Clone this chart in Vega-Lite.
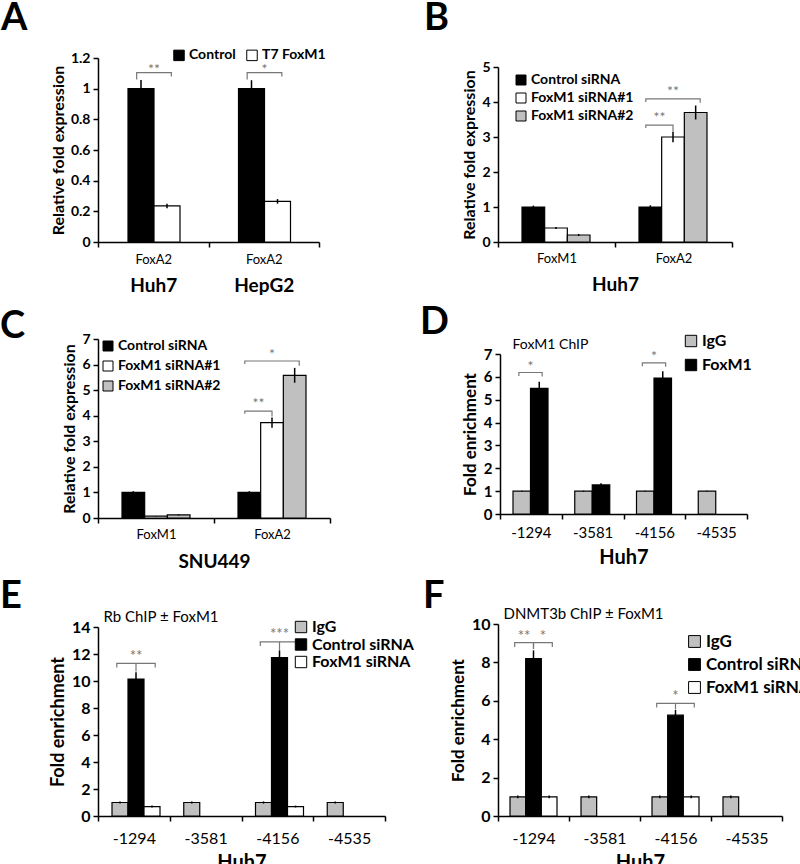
{
  "$schema": "https://vega.github.io/schema/vega-lite/v6.json",
  "padding": {"left": 0, "top": 0, "right": 0, "bottom": 0},
  "background": "white",
  "config": {
    "font": "Lato",
    "view": {"stroke": null},
    "axis": {"labelFont": "Lato", "titleFont": "Lato", "labelColor": "black", "titleColor": "black", "domainColor": "black", "tickColor": "black", "domainWidth": 1.5, "tickWidth": 1.5, "grid": false, "labelFontWeight": "bold", "titleFontWeight": "bold", "tickSize": 5},
    "axisX": {"tickBand": "extent", "labelAngle": 0},
    "axisY": {"labelFlush": false, "format": "~r", "labelOverlap": false},
    "legend": {"labelFont": "Lato", "labelColor": "black", "labelFontWeight": "bold", "symbolType": "square", "symbolStrokeColor": "black", "symbolStrokeWidth": 1, "labelOffset": 3},
    "title": {"font": "Lato", "fontWeight": "bold", "color": "black", "anchor": "start", "frame": "group", "baseline": "alphabetic", "fontSize": 38}
  },
  "datasets": {
    "A": [
      {"g": "Huh7", "s": "Control", "v": 1.0, "lo": 0.945, "hi": 1.057},
      {"g": "Huh7", "s": "T7 FoxM1", "v": 0.235, "lo": 0.22, "hi": 0.25},
      {"g": "HepG2", "s": "Control", "v": 1.0, "lo": 0.945, "hi": 1.055},
      {"g": "HepG2", "s": "T7 FoxM1", "v": 0.265, "lo": 0.25, "hi": 0.28}
    ],
    "A_br": [
      {"g": "Huh7", "id": "a1", "o": 1, "p": "s0", "y": 1.06},
      {"g": "Huh7", "id": "a1", "o": 2, "p": "s0", "y": 1.105},
      {"g": "Huh7", "id": "a1", "o": 3, "p": "s1", "y": 1.105},
      {"g": "Huh7", "id": "a1", "o": 4, "p": "s1", "y": 1.08},
      {"g": "HepG2", "id": "a2", "o": 1, "p": "s0", "y": 1.06},
      {"g": "HepG2", "id": "a2", "o": 2, "p": "s0", "y": 1.105},
      {"g": "HepG2", "id": "a2", "o": 3, "p": "s1", "y": 1.105},
      {"g": "HepG2", "id": "a2", "o": 4, "p": "s1", "y": 1.08}
    ],
    "A_st": [
      {"g": "Huh7", "p": "m01", "y": 1.12, "t": "**"},
      {"g": "HepG2", "p": "m01", "y": 1.12, "t": "*"}
    ],
    "B": [
      {"g": "FoxM1", "s": "Control siRNA", "v": 1.0, "lo": 0.96, "hi": 1.04},
      {"g": "FoxM1", "s": "FoxM1 siRNA#1", "v": 0.4, "lo": 0.37, "hi": 0.43},
      {"g": "FoxM1", "s": "FoxM1 siRNA#2", "v": 0.2, "lo": 0.17, "hi": 0.23},
      {"g": "FoxA2", "s": "Control siRNA", "v": 1.0, "lo": 0.95, "hi": 1.05},
      {"g": "FoxA2", "s": "FoxM1 siRNA#1", "v": 3.0, "lo": 2.85, "hi": 3.15},
      {"g": "FoxA2", "s": "FoxM1 siRNA#2", "v": 3.7, "lo": 3.5, "hi": 3.9}
    ],
    "B_br": [
      {"g": "FoxA2", "id": "b1", "o": 1, "p": "s0", "y": 3.26},
      {"g": "FoxA2", "id": "b1", "o": 2, "p": "s0", "y": 3.34},
      {"g": "FoxA2", "id": "b1", "o": 3, "p": "s1", "y": 3.34},
      {"g": "FoxA2", "id": "b1", "o": 4, "p": "s1", "y": 3.16},
      {"g": "FoxA2", "id": "b2", "o": 1, "p": "s0", "y": 4.0},
      {"g": "FoxA2", "id": "b2", "o": 2, "p": "s0", "y": 4.09},
      {"g": "FoxA2", "id": "b2", "o": 3, "p": "s2", "y": 4.09},
      {"g": "FoxA2", "id": "b2", "o": 4, "p": "s2", "y": 3.98}
    ],
    "B_st": [
      {"g": "FoxA2", "p": "m01", "y": 3.53, "t": "**"},
      {"g": "FoxA2", "p": "s1", "y": 4.29, "t": "**"}
    ],
    "C": [
      {"g": "FoxM1", "s": "Control siRNA", "v": 1.0, "lo": 0.95, "hi": 1.05},
      {"g": "FoxM1", "s": "FoxM1 siRNA#1", "v": 0.07, "lo": 0.06, "hi": 0.08},
      {"g": "FoxM1", "s": "FoxM1 siRNA#2", "v": 0.12, "lo": 0.1, "hi": 0.14},
      {"g": "FoxA2", "s": "Control siRNA", "v": 1.0, "lo": 0.95, "hi": 1.05},
      {"g": "FoxA2", "s": "FoxM1 siRNA#1", "v": 3.73, "lo": 3.53, "hi": 3.93},
      {"g": "FoxA2", "s": "FoxM1 siRNA#2", "v": 5.58, "lo": 5.29, "hi": 5.87}
    ],
    "C_br": [
      {"g": "FoxA2", "id": "c1", "o": 1, "p": "s0", "y": 4.08},
      {"g": "FoxA2", "id": "c1", "o": 2, "p": "s0", "y": 4.18},
      {"g": "FoxA2", "id": "c1", "o": 3, "p": "s1", "y": 4.18},
      {"g": "FoxA2", "id": "c1", "o": 4, "p": "s1", "y": 3.97},
      {"g": "FoxA2", "id": "c2", "o": 1, "p": "s0", "y": 6.02},
      {"g": "FoxA2", "id": "c2", "o": 2, "p": "s0", "y": 6.14},
      {"g": "FoxA2", "id": "c2", "o": 3, "p": "s2", "y": 6.14},
      {"g": "FoxA2", "id": "c2", "o": 4, "p": "s2", "y": 5.95}
    ],
    "C_st": [
      {"g": "FoxA2", "p": "m01", "y": 4.46, "t": "**"},
      {"g": "FoxA2", "p": "s1", "y": 6.37, "t": "*"}
    ],
    "D": [
      {"g": "-1294", "s": "IgG", "v": 1.0, "lo": 0.98, "hi": 1.02},
      {"g": "-1294", "s": "FoxM1", "v": 5.5, "lo": 5.21, "hi": 5.79},
      {"g": "-3581", "s": "IgG", "v": 1.0, "lo": 0.98, "hi": 1.02},
      {"g": "-3581", "s": "FoxM1", "v": 1.27, "lo": 1.2, "hi": 1.34},
      {"g": "-4156", "s": "IgG", "v": 1.0, "lo": 0.98, "hi": 1.02},
      {"g": "-4156", "s": "FoxM1", "v": 5.95, "lo": 5.66, "hi": 6.24},
      {"g": "-4535", "s": "IgG", "v": 1.0, "lo": 0.98, "hi": 1.02}
    ],
    "D_br": [
      {"g": "-1294", "id": "d1", "o": 1, "p": "s0", "y": 6.04},
      {"g": "-1294", "id": "d1", "o": 2, "p": "s0", "y": 6.19},
      {"g": "-1294", "id": "d1", "o": 3, "p": "s1", "y": 6.19},
      {"g": "-1294", "id": "d1", "o": 4, "p": "s1", "y": 6.02},
      {"g": "-4156", "id": "d2", "o": 1, "p": "s0", "y": 6.46},
      {"g": "-4156", "id": "d2", "o": 2, "p": "s0", "y": 6.61},
      {"g": "-4156", "id": "d2", "o": 3, "p": "s1", "y": 6.61},
      {"g": "-4156", "id": "d2", "o": 4, "p": "s1", "y": 6.44}
    ],
    "D_st": [
      {"g": "-1294", "p": "m01", "y": 6.42, "t": "*"},
      {"g": "-4156", "p": "m01", "y": 6.85, "t": "*"}
    ],
    "E": [
      {"g": "-1294", "s": "IgG", "v": 1.0, "lo": 0.92, "hi": 1.08},
      {"g": "-1294", "s": "Control siRNA", "v": 10.15, "lo": 9.65, "hi": 10.65},
      {"g": "-1294", "s": "FoxM1 siRNA", "v": 0.7, "lo": 0.63, "hi": 0.77},
      {"g": "-3581", "s": "IgG", "v": 1.0, "lo": 0.92, "hi": 1.08},
      {"g": "-4156", "s": "IgG", "v": 1.0, "lo": 0.92, "hi": 1.08},
      {"g": "-4156", "s": "Control siRNA", "v": 11.73, "lo": 11.19, "hi": 12.27},
      {"g": "-4156", "s": "FoxM1 siRNA", "v": 0.7, "lo": 0.63, "hi": 0.77},
      {"g": "-4535", "s": "IgG", "v": 1.0, "lo": 0.92, "hi": 1.08}
    ],
    "E_br": [
      {"g": "-1294", "id": "e1", "o": 1, "p": "s0", "y": 11.0},
      {"g": "-1294", "id": "e1", "o": 2, "p": "s0", "y": 11.3},
      {"g": "-1294", "id": "e1", "o": 3, "p": "s2", "y": 11.3},
      {"g": "-1294", "id": "e1", "o": 4, "p": "s2", "y": 11.0},
      {"g": "-1294", "id": "e1m", "o": 1, "p": "s1", "y": 11.3},
      {"g": "-1294", "id": "e1m", "o": 2, "p": "s1", "y": 10.7},
      {"g": "-4156", "id": "e2", "o": 1, "p": "s0", "y": 12.6},
      {"g": "-4156", "id": "e2", "o": 2, "p": "s0", "y": 12.9},
      {"g": "-4156", "id": "e2", "o": 3, "p": "s2", "y": 12.9},
      {"g": "-4156", "id": "e2", "o": 4, "p": "s2", "y": 12.6},
      {"g": "-4156", "id": "e2m", "o": 1, "p": "s1", "y": 12.9},
      {"g": "-4156", "id": "e2m", "o": 2, "p": "s1", "y": 12.3}
    ],
    "E_st": [
      {"g": "-1294", "p": "s1", "y": 11.85, "t": "**"},
      {"g": "-4156", "p": "s1", "y": 13.45, "t": "***"}
    ],
    "F": [
      {"g": "-1294", "s": "IgG", "v": 1.0, "lo": 0.93, "hi": 1.07},
      {"g": "-1294", "s": "Control siRNA", "v": 8.2, "lo": 7.77, "hi": 8.63},
      {"g": "-1294", "s": "FoxM1 siRNA", "v": 1.0, "lo": 0.93, "hi": 1.07},
      {"g": "-3581", "s": "IgG", "v": 1.0, "lo": 0.93, "hi": 1.07},
      {"g": "-4156", "s": "IgG", "v": 1.0, "lo": 0.93, "hi": 1.07},
      {"g": "-4156", "s": "Control siRNA", "v": 5.25, "lo": 4.98, "hi": 5.52},
      {"g": "-4156", "s": "FoxM1 siRNA", "v": 1.0, "lo": 0.93, "hi": 1.07},
      {"g": "-4535", "s": "IgG", "v": 1.0, "lo": 0.93, "hi": 1.07}
    ],
    "F_br": [
      {"g": "-1294", "id": "f1", "o": 1, "p": "s0", "y": 8.8},
      {"g": "-1294", "id": "f1", "o": 2, "p": "s0", "y": 9.03},
      {"g": "-1294", "id": "f1", "o": 3, "p": "s1", "y": 9.03},
      {"g": "-1294", "id": "f1", "o": 4, "p": "s1", "y": 8.7},
      {"g": "-1294", "id": "f2", "o": 1, "p": "s1", "y": 8.7},
      {"g": "-1294", "id": "f2", "o": 2, "p": "s1", "y": 9.03},
      {"g": "-1294", "id": "f2", "o": 3, "p": "s2", "y": 9.03},
      {"g": "-1294", "id": "f2", "o": 4, "p": "s2", "y": 8.8},
      {"g": "-4156", "id": "f3", "o": 1, "p": "s0", "y": 5.65},
      {"g": "-4156", "id": "f3", "o": 2, "p": "s0", "y": 5.87},
      {"g": "-4156", "id": "f3", "o": 3, "p": "s2", "y": 5.87},
      {"g": "-4156", "id": "f3", "o": 4, "p": "s2", "y": 5.65},
      {"g": "-4156", "id": "f3m", "o": 1, "p": "s1", "y": 5.87},
      {"g": "-4156", "id": "f3m", "o": 2, "p": "s1", "y": 5.55}
    ],
    "F_st": [
      {"g": "-1294", "p": "m01", "y": 9.38, "t": "**"},
      {"g": "-1294", "p": "m12", "y": 9.38, "t": "*"},
      {"g": "-4156", "p": "s1", "y": 6.26, "t": "*"}
    ]
  },
  "bounds": "flush",
  "spacing": 281,
  "resolve": {"scale": {"color": "independent"}, "legend": {"color": "independent"}},
  "vconcat": [
    {
      "bounds": "flush",
      "spacing": 179,
      "resolve": {"scale": {"color": "independent"}, "legend": {"color": "independent"}},
      "hconcat": [
        {
          "width": 221, "height": 184,
          "title": {"text": "A", "dx": -97, "offset": 10},
          "data": {"name": "A"},
          "resolve": {"scale": {"xOffset": "independent"}, "axis": {"x": "independent"}},
          "layer": [
            {
              "mark": {"type": "bar", "stroke": "black", "strokeWidth": 1.2},
              "encoding": {
                "x": {"field": "g", "type": "nominal", "scale": {"domain": ["Huh7", "HepG2"], "paddingInner": 0, "paddingOuter": 0}, "axis": {"title": null, "labelExpr": "datum.label ? 'FoxA2' : ''", "labelFontSize": 13, "labelFontWeight": "normal", "labelPadding": 6}},
                "xOffset": {"field": "s", "type": "nominal", "scale": {"domain": ["Control", "T7 FoxM1"], "paddingInner": 0, "paddingOuter": 0, "range": [30, 82]}},
                "y": {"field": "v", "type": "quantitative", "scale": {"domain": [0, 1.2], "range": [184, 0], "nice": false}, "axis": {"title": "Relative fold expression", "titleFontSize": 16, "values": [0, 0.2, 0.4, 0.6, 0.8, 1, 1.2], "labelOverlap": false, "labelFontSize": 14, "labelPadding": 3}},
                "color": {"field": "s", "type": "nominal", "scale": {"domain": ["Control", "T7 FoxM1"], "range": ["#000000", "#ffffff"]}, "legend": {"orient": "none", "legendX": 74, "legendY": -10, "direction": "horizontal", "columns": 2, "title": null, "labelFontSize": 14, "symbolSize": 110, "columnPadding": 8}}
              }
            },
            {
              "mark": {"type": "rule", "color": "black", "strokeWidth": 1.5},
              "encoding": {
                "x": {"field": "g", "type": "nominal", "scale": {"domain": ["Huh7", "HepG2"], "paddingInner": 0, "paddingOuter": 0}, "axis": null},
                "xOffset": {"field": "s", "type": "nominal", "scale": {"domain": ["Control", "T7 FoxM1"], "paddingInner": 0, "paddingOuter": 0, "range": [30, 82]}},
                "y": {"field": "lo", "type": "quantitative", "scale": {"domain": [0, 1.2], "range": [184, 0], "nice": false}, "axis": {"title": "Relative fold expression", "titleFontSize": 16, "values": [0, 0.2, 0.4, 0.6, 0.8, 1, 1.2], "labelOverlap": false, "labelFontSize": 14, "labelPadding": 3}},
                "y2": {"field": "hi"}
              }
            },
            {
              "data": {"name": "A_br"},
              "mark": {"type": "line", "color": "#777777", "strokeWidth": 1.2},
              "encoding": {
                "x": {"field": "g", "type": "nominal", "scale": {"domain": ["Huh7", "HepG2"], "paddingInner": 0, "paddingOuter": 0}, "axis": null},
                "xOffset": {"field": "p", "type": "nominal", "scale": {"domain": ["s0", "m01", "s1"], "paddingInner": 0, "paddingOuter": 0.5, "range": [30, 82]}},
                "y": {"field": "y", "type": "quantitative", "scale": {"domain": [0, 1.2], "range": [184, 0], "nice": false}, "axis": {"title": "Relative fold expression", "titleFontSize": 16, "values": [0, 0.2, 0.4, 0.6, 0.8, 1, 1.2], "labelOverlap": false, "labelFontSize": 14, "labelPadding": 3}},
                "detail": {"field": "id"},
                "order": {"field": "o"}
              }
            },
            {
              "data": {"name": "A_st"},
              "mark": {"type": "text", "color": "#777777", "fontSize": 14, "baseline": "middle"},
              "encoding": {
                "x": {"field": "g", "type": "nominal", "scale": {"domain": ["Huh7", "HepG2"], "paddingInner": 0, "paddingOuter": 0}, "axis": {"orient": "bottom", "title": null, "ticks": false, "domain": false, "labelFontSize": 19, "labelFontWeight": "bold", "labelPadding": 34}},
                "xOffset": {"field": "p", "type": "nominal", "scale": {"domain": ["s0", "m01", "s1"], "paddingInner": 0, "paddingOuter": 0.5, "range": [30, 82]}},
                "y": {"field": "y", "type": "quantitative", "scale": {"domain": [0, 1.2], "range": [184, 0], "nice": false}, "axis": {"title": "Relative fold expression", "titleFontSize": 16, "values": [0, 0.2, 0.4, 0.6, 0.8, 1, 1.2], "labelOverlap": false, "labelFontSize": 14, "labelPadding": 3}},
                "text": {"field": "t"}
              }
            }
          ]
        },
        {
          "width": 234, "height": 184,
          "title": {"text": "B", "dx": -74, "offset": 20},
          "data": {"name": "B"},
          "resolve": {"scale": {"xOffset": "independent"}},
          "layer": [
            {
              "mark": {"type": "bar", "stroke": "black", "strokeWidth": 1.2},
              "encoding": {
                "x": {"field": "g", "type": "nominal", "scale": {"domain": ["FoxM1", "FoxA2"], "paddingInner": 0, "paddingOuter": 0}, "axis": {"title": "Huh7", "titleFontSize": 19, "titlePadding": 10, "labelFontSize": 13, "labelFontWeight": "normal", "labelPadding": 5}},
                "xOffset": {"field": "s", "type": "nominal", "scale": {"domain": ["Control siRNA", "FoxM1 siRNA#1", "FoxM1 siRNA#2"], "paddingInner": 0, "paddingOuter": 0, "range": [24, 92]}},
                "y": {"field": "v", "type": "quantitative", "scale": {"domain": [0, 5], "range": [184, 9], "nice": false}, "axis": {"title": "Relative fold expression", "titleFontSize": 16, "values": [0, 1, 2, 3, 4, 5], "labelOverlap": false, "labelFontSize": 14, "labelPadding": 3}},
                "color": {"field": "s", "type": "nominal", "scale": {"domain": ["Control siRNA", "FoxM1 siRNA#1", "FoxM1 siRNA#2"], "range": ["#000000", "#ffffff", "#c0c0c0"]}, "legend": {"orient": "none", "legendX": 16, "legendY": 15, "direction": "vertical", "title": null, "labelFontSize": 14, "symbolSize": 100, "rowPadding": 4}}
              }
            },
            {
              "mark": {"type": "rule", "color": "black", "strokeWidth": 1.5},
              "encoding": {
                "x": {"field": "g", "type": "nominal", "scale": {"domain": ["FoxM1", "FoxA2"], "paddingInner": 0, "paddingOuter": 0}},
                "xOffset": {"field": "s", "type": "nominal", "scale": {"domain": ["Control siRNA", "FoxM1 siRNA#1", "FoxM1 siRNA#2"], "paddingInner": 0, "paddingOuter": 0, "range": [24, 92]}},
                "y": {"field": "lo", "type": "quantitative", "scale": {"domain": [0, 5], "range": [184, 9], "nice": false}, "axis": {"title": "Relative fold expression", "titleFontSize": 16, "values": [0, 1, 2, 3, 4, 5], "labelOverlap": false, "labelFontSize": 14, "labelPadding": 3}},
                "y2": {"field": "hi"}
              }
            },
            {
              "data": {"name": "B_br"},
              "mark": {"type": "line", "color": "#777777", "strokeWidth": 1.2},
              "encoding": {
                "x": {"field": "g", "type": "nominal", "scale": {"domain": ["FoxM1", "FoxA2"], "paddingInner": 0, "paddingOuter": 0}},
                "xOffset": {"field": "p", "type": "nominal", "scale": {"domain": ["s0", "m01", "s1", "m12", "s2"], "paddingInner": 0, "paddingOuter": 0.5, "range": [24, 92]}},
                "y": {"field": "y", "type": "quantitative", "scale": {"domain": [0, 5], "range": [184, 9], "nice": false}, "axis": {"title": "Relative fold expression", "titleFontSize": 16, "values": [0, 1, 2, 3, 4, 5], "labelOverlap": false, "labelFontSize": 14, "labelPadding": 3}},
                "detail": {"field": "id"},
                "order": {"field": "o"}
              }
            },
            {
              "data": {"name": "B_st"},
              "mark": {"type": "text", "color": "#777777", "fontSize": 14, "baseline": "middle"},
              "encoding": {
                "x": {"field": "g", "type": "nominal", "scale": {"domain": ["FoxM1", "FoxA2"], "paddingInner": 0, "paddingOuter": 0}},
                "xOffset": {"field": "p", "type": "nominal", "scale": {"domain": ["s0", "m01", "s1", "m12", "s2"], "paddingInner": 0, "paddingOuter": 0.5, "range": [24, 92]}},
                "y": {"field": "y", "type": "quantitative", "scale": {"domain": [0, 5], "range": [184, 9], "nice": false}, "axis": {"title": "Relative fold expression", "titleFontSize": 16, "values": [0, 1, 2, 3, 4, 5], "labelOverlap": false, "labelFontSize": 14, "labelPadding": 3}},
                "text": {"field": "t"}
              }
            }
          ]
        }
      ]
    },
    {
      "bounds": "flush",
      "spacing": 170,
      "resolve": {"scale": {"color": "independent"}, "legend": {"color": "independent"}},
      "hconcat": [
        {
          "width": 232, "height": 179,
          "title": {"text": "C", "dx": -98, "offset": -14},
          "data": {"name": "C"},
          "resolve": {"scale": {"xOffset": "independent"}},
          "layer": [
            {
              "mark": {"type": "bar", "stroke": "black", "strokeWidth": 1.2},
              "encoding": {
                "x": {"field": "g", "type": "nominal", "scale": {"domain": ["FoxM1", "FoxA2"], "paddingInner": 0, "paddingOuter": 0}, "axis": {"title": "SNU449", "titleFontSize": 19, "titlePadding": 11, "labelFontSize": 13, "labelFontWeight": "normal", "labelPadding": 5}},
                "xOffset": {"field": "s", "type": "nominal", "scale": {"domain": ["Control siRNA", "FoxM1 siRNA#1", "FoxM1 siRNA#2"], "paddingInner": 0, "paddingOuter": 0, "range": [24, 92]}},
                "y": {"field": "v", "type": "quantitative", "scale": {"domain": [0, 7], "range": [179, 0], "nice": false}, "axis": {"title": "Relative fold expression", "titleFontSize": 16, "values": [0, 1, 2, 3, 4, 5, 6, 7], "labelOverlap": false, "labelFontSize": 14, "labelPadding": 3}},
                "color": {"field": "s", "type": "nominal", "scale": {"domain": ["Control siRNA", "FoxM1 siRNA#1", "FoxM1 siRNA#2"], "range": ["#000000", "#ffffff", "#c0c0c0"]}, "legend": {"orient": "none", "legendX": 3, "legendY": 0, "direction": "vertical", "title": null, "labelFontSize": 14, "symbolSize": 100, "rowPadding": 6}}
              }
            },
            {
              "mark": {"type": "rule", "color": "black", "strokeWidth": 1.5},
              "encoding": {
                "x": {"field": "g", "type": "nominal", "scale": {"domain": ["FoxM1", "FoxA2"], "paddingInner": 0, "paddingOuter": 0}},
                "xOffset": {"field": "s", "type": "nominal", "scale": {"domain": ["Control siRNA", "FoxM1 siRNA#1", "FoxM1 siRNA#2"], "paddingInner": 0, "paddingOuter": 0, "range": [24, 92]}},
                "y": {"field": "lo", "type": "quantitative", "scale": {"domain": [0, 7], "range": [179, 0], "nice": false}, "axis": {"title": "Relative fold expression", "titleFontSize": 16, "values": [0, 1, 2, 3, 4, 5, 6, 7], "labelOverlap": false, "labelFontSize": 14, "labelPadding": 3}},
                "y2": {"field": "hi"}
              }
            },
            {
              "data": {"name": "C_br"},
              "mark": {"type": "line", "color": "#777777", "strokeWidth": 1.2},
              "encoding": {
                "x": {"field": "g", "type": "nominal", "scale": {"domain": ["FoxM1", "FoxA2"], "paddingInner": 0, "paddingOuter": 0}},
                "xOffset": {"field": "p", "type": "nominal", "scale": {"domain": ["s0", "m01", "s1", "m12", "s2"], "paddingInner": 0, "paddingOuter": 0.5, "range": [24, 92]}},
                "y": {"field": "y", "type": "quantitative", "scale": {"domain": [0, 7], "range": [179, 0], "nice": false}, "axis": {"title": "Relative fold expression", "titleFontSize": 16, "values": [0, 1, 2, 3, 4, 5, 6, 7], "labelOverlap": false, "labelFontSize": 14, "labelPadding": 3}},
                "detail": {"field": "id"},
                "order": {"field": "o"}
              }
            },
            {
              "data": {"name": "C_st"},
              "mark": {"type": "text", "color": "#777777", "fontSize": 14, "baseline": "middle"},
              "encoding": {
                "x": {"field": "g", "type": "nominal", "scale": {"domain": ["FoxM1", "FoxA2"], "paddingInner": 0, "paddingOuter": 0}},
                "xOffset": {"field": "p", "type": "nominal", "scale": {"domain": ["s0", "m01", "s1", "m12", "s2"], "paddingInner": 0, "paddingOuter": 0.5, "range": [24, 92]}},
                "y": {"field": "y", "type": "quantitative", "scale": {"domain": [0, 7], "range": [179, 0], "nice": false}, "axis": {"title": "Relative fold expression", "titleFontSize": 16, "values": [0, 1, 2, 3, 4, 5, 6, 7], "labelOverlap": false, "labelFontSize": 14, "labelPadding": 3}},
                "text": {"field": "t"}
              }
            }
          ]
        },
        {
          "width": 247, "height": 175,
          "title": {"text": "D", "dx": -80, "offset": -9},
          "data": {"name": "D"},
          "resolve": {"scale": {"xOffset": "independent"}, "axis": {"x": "independent"}},
          "layer": [
            {
              "mark": {"type": "bar", "stroke": "black", "strokeWidth": 1.2},
              "encoding": {
                "x": {"field": "g", "type": "nominal", "scale": {"domain": ["-1294", "-3581", "-4156", "-4535"], "paddingInner": 0, "paddingOuter": 0}, "axis": {"title": "Huh7", "titleFontSize": 20, "titlePadding": 7, "labelFontSize": 15, "labelFontWeight": "normal", "labelPadding": 6}},
                "xOffset": {"field": "s", "type": "nominal", "scale": {"domain": ["IgG", "FoxM1"], "paddingInner": 0, "paddingOuter": 0, "range": [13, 48]}},
                "y": {"field": "v", "type": "quantitative", "scale": {"domain": [0, 7], "range": [175, 15], "nice": false}, "axis": {"title": "Fold enrichment", "titleFontSize": 17, "values": [0, 1, 2, 3, 4, 5, 6, 7], "labelOverlap": false, "labelFontSize": 15, "labelPadding": 3}},
                "color": {"field": "s", "type": "nominal", "scale": {"domain": ["IgG", "FoxM1"], "range": ["#c0c0c0", "#000000"]}, "legend": {"orient": "none", "legendX": 183, "legendY": -6, "direction": "vertical", "title": null, "labelFontSize": 16, "symbolSize": 130, "rowPadding": 8}}
              }
            },
            {
              "mark": {"type": "rule", "color": "black", "strokeWidth": 1.5},
              "encoding": {
                "x": {"field": "g", "type": "nominal", "scale": {"domain": ["-1294", "-3581", "-4156", "-4535"], "paddingInner": 0, "paddingOuter": 0}, "axis": null},
                "xOffset": {"field": "s", "type": "nominal", "scale": {"domain": ["IgG", "FoxM1"], "paddingInner": 0, "paddingOuter": 0, "range": [13, 48]}},
                "y": {"field": "lo", "type": "quantitative", "scale": {"domain": [0, 7], "range": [175, 15], "nice": false}, "axis": {"title": "Fold enrichment", "titleFontSize": 17, "values": [0, 1, 2, 3, 4, 5, 6, 7], "labelOverlap": false, "labelFontSize": 15, "labelPadding": 3}},
                "y2": {"field": "hi"}
              }
            },
            {
              "data": {"name": "D_br"},
              "mark": {"type": "line", "color": "#777777", "strokeWidth": 1.2},
              "encoding": {
                "x": {"field": "g", "type": "nominal", "scale": {"domain": ["-1294", "-3581", "-4156", "-4535"], "paddingInner": 0, "paddingOuter": 0}, "axis": {"orient": "top", "title": "FoxM1 ChIP", "labels": false, "ticks": false, "domain": false, "titleX": 12, "titleY": 5, "titleAlign": "left", "titleAnchor": "start", "titleBaseline": "middle", "titleFontSize": 14, "titleFontWeight": "normal"}},
                "xOffset": {"field": "p", "type": "nominal", "scale": {"domain": ["s0", "m01", "s1"], "paddingInner": 0, "paddingOuter": 0.5, "range": [13, 48]}},
                "y": {"field": "y", "type": "quantitative", "scale": {"domain": [0, 7], "range": [175, 15], "nice": false}, "axis": {"title": "Fold enrichment", "titleFontSize": 17, "values": [0, 1, 2, 3, 4, 5, 6, 7], "labelOverlap": false, "labelFontSize": 15, "labelPadding": 3}},
                "detail": {"field": "id"},
                "order": {"field": "o"}
              }
            },
            {
              "data": {"name": "D_st"},
              "mark": {"type": "text", "color": "#777777", "fontSize": 14, "baseline": "middle"},
              "encoding": {
                "x": {"field": "g", "type": "nominal", "scale": {"domain": ["-1294", "-3581", "-4156", "-4535"], "paddingInner": 0, "paddingOuter": 0}, "axis": null},
                "xOffset": {"field": "p", "type": "nominal", "scale": {"domain": ["s0", "m01", "s1"], "paddingInner": 0, "paddingOuter": 0.5, "range": [13, 48]}},
                "y": {"field": "y", "type": "quantitative", "scale": {"domain": [0, 7], "range": [175, 15], "nice": false}, "axis": {"title": "Fold enrichment", "titleFontSize": 17, "values": [0, 1, 2, 3, 4, 5, 6, 7], "labelOverlap": false, "labelFontSize": 15, "labelPadding": 3}},
                "text": {"field": "t"}
              }
            }
          ]
        }
      ]
    },
    {
      "bounds": "flush",
      "spacing": 113,
      "resolve": {"scale": {"color": "independent"}, "legend": {"color": "independent"}},
      "hconcat": [
        {
          "width": 287, "height": 196,
          "title": {"text": "E", "dx": -98, "offset": -7},
          "data": {"name": "E"},
          "resolve": {"scale": {"xOffset": "independent"}, "axis": {"x": "independent"}},
          "layer": [
            {
              "mark": {"type": "bar", "stroke": "black", "strokeWidth": 1.2},
              "encoding": {
                "x": {"field": "g", "type": "nominal", "scale": {"domain": ["-1294", "-3581", "-4156", "-4535"], "paddingInner": 0, "paddingOuter": 0}, "axis": {"title": "Huh7", "titleFontSize": 20, "titlePadding": 6, "labelFontSize": 16, "labelFontWeight": "normal", "labelPadding": 9}},
                "xOffset": {"field": "s", "type": "nominal", "scale": {"domain": ["IgG", "Control siRNA", "FoxM1 siRNA"], "paddingInner": 0, "paddingOuter": 0, "range": [14, 62]}},
                "y": {"field": "v", "type": "quantitative", "scale": {"domain": [0, 14], "range": [196, 7], "nice": false}, "axis": {"title": "Fold enrichment", "titleFontSize": 18, "values": [0, 2, 4, 6, 8, 10, 12, 14], "labelOverlap": false, "labelFontSize": 16, "labelPadding": 3}},
                "color": {"field": "s", "type": "nominal", "scale": {"domain": ["IgG", "Control siRNA", "FoxM1 siRNA"], "range": ["#c0c0c0", "#000000", "#ffffff"]}, "legend": {"orient": "none", "legendX": 195, "legendY": -1, "direction": "vertical", "title": null, "labelFontSize": 16, "symbolSize": 130, "rowPadding": 1.5}}
              }
            },
            {
              "mark": {"type": "rule", "color": "black", "strokeWidth": 1.5},
              "encoding": {
                "x": {"field": "g", "type": "nominal", "scale": {"domain": ["-1294", "-3581", "-4156", "-4535"], "paddingInner": 0, "paddingOuter": 0}, "axis": null},
                "xOffset": {"field": "s", "type": "nominal", "scale": {"domain": ["IgG", "Control siRNA", "FoxM1 siRNA"], "paddingInner": 0, "paddingOuter": 0, "range": [14, 62]}},
                "y": {"field": "lo", "type": "quantitative", "scale": {"domain": [0, 14], "range": [196, 7], "nice": false}, "axis": {"title": "Fold enrichment", "titleFontSize": 18, "values": [0, 2, 4, 6, 8, 10, 12, 14], "labelOverlap": false, "labelFontSize": 16, "labelPadding": 3}},
                "y2": {"field": "hi"}
              }
            },
            {
              "data": {"name": "E_br"},
              "mark": {"type": "line", "color": "#777777", "strokeWidth": 1.2},
              "encoding": {
                "x": {"field": "g", "type": "nominal", "scale": {"domain": ["-1294", "-3581", "-4156", "-4535"], "paddingInner": 0, "paddingOuter": 0}, "axis": {"orient": "top", "title": "Rb ChIP ± FoxM1", "labels": false, "ticks": false, "domain": false, "titleX": 5, "titleY": -4, "titleAlign": "left", "titleAnchor": "start", "titleBaseline": "middle", "titleFontSize": 15, "titleFontWeight": "normal"}},
                "xOffset": {"field": "p", "type": "nominal", "scale": {"domain": ["s0", "m01", "s1", "m12", "s2"], "paddingInner": 0, "paddingOuter": 0.5, "range": [14, 62]}},
                "y": {"field": "y", "type": "quantitative", "scale": {"domain": [0, 14], "range": [196, 7], "nice": false}, "axis": {"title": "Fold enrichment", "titleFontSize": 18, "values": [0, 2, 4, 6, 8, 10, 12, 14], "labelOverlap": false, "labelFontSize": 16, "labelPadding": 3}},
                "detail": {"field": "id"},
                "order": {"field": "o"}
              }
            },
            {
              "data": {"name": "E_st"},
              "mark": {"type": "text", "color": "#777777", "fontSize": 15, "baseline": "middle"},
              "encoding": {
                "x": {"field": "g", "type": "nominal", "scale": {"domain": ["-1294", "-3581", "-4156", "-4535"], "paddingInner": 0, "paddingOuter": 0}, "axis": null},
                "xOffset": {"field": "p", "type": "nominal", "scale": {"domain": ["s0", "m01", "s1", "m12", "s2"], "paddingInner": 0, "paddingOuter": 0.5, "range": [14, 62]}},
                "y": {"field": "y", "type": "quantitative", "scale": {"domain": [0, 14], "range": [196, 7], "nice": false}, "axis": {"title": "Fold enrichment", "titleFontSize": 18, "values": [0, 2, 4, 6, 8, 10, 12, 14], "labelOverlap": false, "labelFontSize": 16, "labelPadding": 3}},
                "text": {"field": "t"}
              }
            }
          ]
        },
        {
          "width": 284, "height": 196,
          "title": {"text": "F", "dx": -75, "offset": -10},
          "data": {"name": "F"},
          "resolve": {"scale": {"xOffset": "independent"}, "axis": {"x": "independent"}},
          "layer": [
            {
              "mark": {"type": "bar", "stroke": "black", "strokeWidth": 1.2},
              "encoding": {
                "x": {"field": "g", "type": "nominal", "scale": {"domain": ["-1294", "-3581", "-4156", "-4535"], "paddingInner": 0, "paddingOuter": 0}, "axis": {"title": "Huh7", "titleFontSize": 20, "titlePadding": 6, "labelFontSize": 16, "labelFontWeight": "normal", "labelPadding": 9}},
                "xOffset": {"field": "s", "type": "nominal", "scale": {"domain": ["IgG", "Control siRNA", "FoxM1 siRNA"], "paddingInner": 0, "paddingOuter": 0, "range": [12, 59]}},
                "y": {"field": "v", "type": "quantitative", "scale": {"domain": [0, 10], "range": [196, 4], "nice": false}, "axis": {"title": "Fold enrichment", "titleFontSize": 17, "values": [0, 2, 4, 6, 8, 10], "labelOverlap": false, "labelFontSize": 16, "labelPadding": 3}},
                "color": {"field": "s", "type": "nominal", "scale": {"domain": ["IgG", "Control siRNA", "FoxM1 siRNA"], "range": ["#c0c0c0", "#000000", "#ffffff"]}, "legend": {"orient": "none", "legendX": 188, "legendY": 13, "direction": "vertical", "title": null, "labelFontSize": 17, "symbolSize": 140, "rowPadding": 5}}
              }
            },
            {
              "mark": {"type": "rule", "color": "black", "strokeWidth": 1.5},
              "encoding": {
                "x": {"field": "g", "type": "nominal", "scale": {"domain": ["-1294", "-3581", "-4156", "-4535"], "paddingInner": 0, "paddingOuter": 0}, "axis": null},
                "xOffset": {"field": "s", "type": "nominal", "scale": {"domain": ["IgG", "Control siRNA", "FoxM1 siRNA"], "paddingInner": 0, "paddingOuter": 0, "range": [12, 59]}},
                "y": {"field": "lo", "type": "quantitative", "scale": {"domain": [0, 10], "range": [196, 4], "nice": false}, "axis": {"title": "Fold enrichment", "titleFontSize": 17, "values": [0, 2, 4, 6, 8, 10], "labelOverlap": false, "labelFontSize": 16, "labelPadding": 3}},
                "y2": {"field": "hi"}
              }
            },
            {
              "data": {"name": "F_br"},
              "mark": {"type": "line", "color": "#777777", "strokeWidth": 1.2},
              "encoding": {
                "x": {"field": "g", "type": "nominal", "scale": {"domain": ["-1294", "-3581", "-4156", "-4535"], "paddingInner": 0, "paddingOuter": 0}, "axis": {"orient": "top", "title": "DNMT3b ChIP ± FoxM1", "labels": false, "ticks": false, "domain": false, "titleX": 5, "titleY": -7, "titleAlign": "left", "titleAnchor": "start", "titleBaseline": "middle", "titleFontSize": 15, "titleFontWeight": "normal"}},
                "xOffset": {"field": "p", "type": "nominal", "scale": {"domain": ["s0", "m01", "s1", "m12", "s2"], "paddingInner": 0, "paddingOuter": 0.5, "range": [12, 59]}},
                "y": {"field": "y", "type": "quantitative", "scale": {"domain": [0, 10], "range": [196, 4], "nice": false}, "axis": {"title": "Fold enrichment", "titleFontSize": 17, "values": [0, 2, 4, 6, 8, 10], "labelOverlap": false, "labelFontSize": 16, "labelPadding": 3}},
                "detail": {"field": "id"},
                "order": {"field": "o"}
              }
            },
            {
              "data": {"name": "F_st"},
              "mark": {"type": "text", "color": "#777777", "fontSize": 15, "baseline": "middle"},
              "encoding": {
                "x": {"field": "g", "type": "nominal", "scale": {"domain": ["-1294", "-3581", "-4156", "-4535"], "paddingInner": 0, "paddingOuter": 0}, "axis": null},
                "xOffset": {"field": "p", "type": "nominal", "scale": {"domain": ["s0", "m01", "s1", "m12", "s2"], "paddingInner": 0, "paddingOuter": 0.5, "range": [12, 59]}},
                "y": {"field": "y", "type": "quantitative", "scale": {"domain": [0, 10], "range": [196, 4], "nice": false}, "axis": {"title": "Fold enrichment", "titleFontSize": 17, "values": [0, 2, 4, 6, 8, 10], "labelOverlap": false, "labelFontSize": 16, "labelPadding": 3}},
                "text": {"field": "t"}
              }
            }
          ]
        }
      ]
    }
  ]
}
